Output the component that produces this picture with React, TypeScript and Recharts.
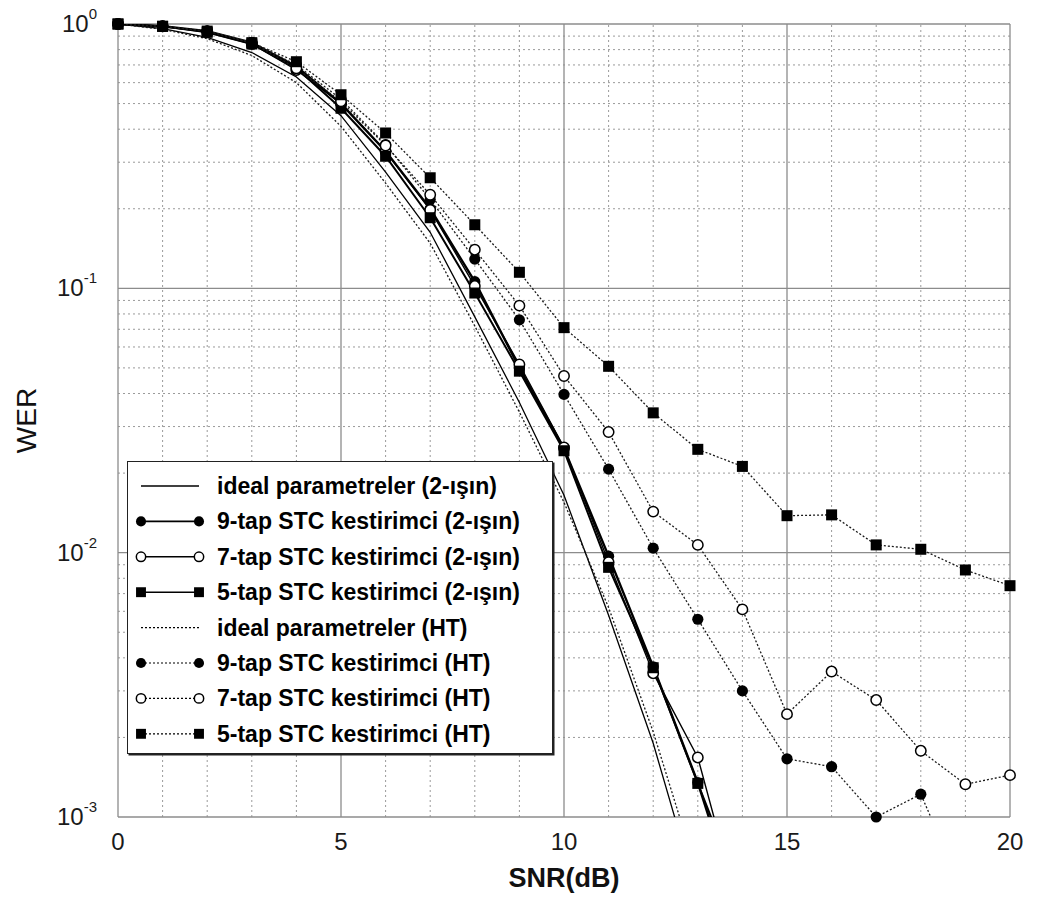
import React from 'react';
import { LineChart, Line, XAxis, YAxis, ReferenceLine, Legend } from 'recharts';

// ---------- data ----------
const snr = [0, 1, 2, 3, 4, 5, 6, 7, 8, 9, 10, 11, 12, 13, 14, 15, 16, 17, 18, 19, 20];

const ideal2 = [1.0, 0.96, 0.89, 0.78, 0.63, 0.45, 0.275, 0.163, 0.078, 0.037, 0.0165, 0.0058, 0.0019, 0.0005];
const tap9_2 = [1.0, 0.98, 0.94, 0.85, 0.69, 0.5, 0.33, 0.2, 0.106, 0.05, 0.0248, 0.0097, 0.0037, 0.00135, 0.0004];
const tap7_2 = [1.0, 0.98, 0.93, 0.84, 0.67, 0.5, 0.33, 0.198, 0.102, 0.0515, 0.025, 0.0092, 0.0035, 0.00168, 0.0004];
const tap5_2 = [1.0, 0.98, 0.93, 0.84, 0.68, 0.48, 0.316, 0.185, 0.096, 0.0486, 0.0243, 0.0088, 0.00367, 0.00134, 0.0005];
const idealHT = [1.0, 0.955, 0.88, 0.76, 0.6, 0.41, 0.25, 0.148, 0.072, 0.034, 0.0155, 0.0062, 0.0021, 0.0006];
const tap9HT = [1.0, 0.98, 0.94, 0.85, 0.7, 0.52, 0.35, 0.217, 0.129, 0.076, 0.0397, 0.0207, 0.0104, 0.0056, 0.003, 0.00166, 0.00155, 0.001, 0.00122, 0.0005];
const tap7HT = [1.0, 0.98, 0.94, 0.85, 0.68, 0.51, 0.347, 0.226, 0.14, 0.086, 0.0466, 0.0286, 0.0143, 0.0107, 0.0061, 0.00245, 0.00355, 0.00277, 0.00178, 0.00133, 0.00144];
const tap5HT = [1.0, 0.98, 0.94, 0.85, 0.72, 0.54, 0.387, 0.262, 0.174, 0.115, 0.071, 0.0507, 0.0338, 0.0246, 0.0212, 0.0138, 0.0139, 0.0107, 0.0103, 0.0086, 0.0075];

const xTicks = [0, 5, 10, 15, 20];
const xMinor = [1, 2, 3, 4, 6, 7, 8, 9, 11, 12, 13, 14, 16, 17, 18, 19];
const yTicks = [0.001, 0.01, 0.1, 1];
const yTickExps = ['-3', '-2', '-1', '0'];
const yMinor = [
  0.002, 0.003, 0.004, 0.005, 0.006, 0.007, 0.008, 0.009,
  0.02, 0.03, 0.04, 0.05, 0.06, 0.07, 0.08, 0.09,
  0.2, 0.3, 0.4, 0.5, 0.6, 0.7, 0.8, 0.9,
];

const names = [
  'ideal parametreler (2-ışın)',
  '9-tap STC kestirimci (2-ışın)',
  '7-tap STC kestirimci (2-ışın)',
  '5-tap STC kestirimci (2-ışın)',
  'ideal parametreler (HT)',
  '9-tap STC kestirimci (HT)',
  '7-tap STC kestirimci (HT)',
  '5-tap STC kestirimci (HT)',
];

// ---------- styles ----------
type Kind = 'filled' | 'open' | 'square' | null;
const SERIES: { key: string; values: number[]; name: string; marker: Kind; dashed: boolean; width: number }[] = [
  { key: 'ideal2', values: ideal2, name: names[0], marker: null, dashed: false, width: 1.3 },
  { key: 'tap9_2', values: tap9_2, name: names[1], marker: 'filled', dashed: false, width: 2.4 },
  { key: 'tap7_2', values: tap7_2, name: names[2], marker: 'open', dashed: false, width: 1.4 },
  { key: 'tap5_2', values: tap5_2, name: names[3], marker: 'square', dashed: false, width: 2 },
  { key: 'idealHT', values: idealHT, name: names[4], marker: null, dashed: true, width: 1.3 },
  { key: 'tap9HT', values: tap9HT, name: names[5], marker: 'filled', dashed: true, width: 1.3 },
  { key: 'tap7HT', values: tap7HT, name: names[6], marker: 'open', dashed: true, width: 1.3 },
  { key: 'tap5HT', values: tap5HT, name: names[7], marker: 'square', dashed: true, width: 1.3 },
];

const FONT = '"Liberation Sans", Arial, Helvetica, sans-serif';
const DOTTED = '2 2';

const data = snr.map((x, i) => {
  const row: Record<string, number> = { x };
  SERIES.forEach((s) => {
    if (i < s.values.length) row[s.key] = s.values[i];
  });
  return row;
});

function MarkerShape({ cx, cy, kind, size = 1 }: { cx: number; cy: number; kind: Kind; size?: number }) {
  if (cx == null || cy == null || Number.isNaN(cx) || Number.isNaN(cy)) return null;
  if (kind === 'filled') return <circle cx={cx} cy={cy} r={5.6 * size} fill="#000" />;
  if (kind === 'open')
    return <circle cx={cx} cy={cy} r={5.2 * size} fill="#fff" stroke="#000" strokeWidth={1.5} />;
  if (kind === 'square') {
    const h = 5.5 * size;
    return <rect x={cx - h} y={cy - h} width={2 * h} height={2 * h} fill="#000" />;
  }
  return null;
}

function YTick(props: any) {
  const { x, y, payload } = props;
  const idx = yTicks.indexOf(payload.value);
  return (
    <text x={x - 21} y={y + 8} textAnchor="end" fontFamily={FONT} fill="#1a1a1a">
      <tspan fontSize={24}>10</tspan>
      <tspan fontSize={15} dy={-13}>
        {yTickExps[idx]}
      </tspan>
    </text>
  );
}

function XTick(props: any) {
  const { x, y, payload } = props;
  return (
    <text x={x} y={y + 33} textAnchor="middle" fontFamily={FONT} fontSize={24} fill="#1a1a1a">
      {payload.value}
    </text>
  );
}

function LegendBox() {
  const rowY = (i: number) => 24 + i * 35.4;
  return (
    <div
      style={{
        width: 424,
        height: 291,
        background: '#fff',
        border: '1.5px solid #222',
        boxShadow: '1.5px 1.5px 0 #222',
      }}
    >
      <svg width={424} height={291}>
        {SERIES.map((s, i) => {
          const y = rowY(i);
          return (
            <g key={s.key}>
              <line
                x1={13}
                x2={71}
                y1={y}
                y2={y}
                stroke="#000"
                strokeWidth={s.dashed ? 1.2 : s.marker ? 1.6 : 1.4}
                strokeDasharray={s.dashed ? DOTTED : undefined}
              />
              {s.marker && <MarkerShape cx={13} cy={y} kind={s.marker} size={0.9} />}
              {s.marker && <MarkerShape cx={71} cy={y} kind={s.marker} size={0.9} />}
              <text
                x={89}
                y={y}
                dominantBaseline="central"
                fontFamily={FONT}
                fontWeight="bold"
                fontSize={23}
                fill="#000"
              >
                {s.name}
              </text>
            </g>
          );
        })}
      </svg>
    </div>
  );
}

export default function App() {
  return (
    <div style={{ width: 1022, height: 895, marginTop: -6, fontFamily: FONT }}>
      <LineChart width={1022} height={895} data={data} margin={{ top: 22, right: 20, left: 20, bottom: 30 }}>
        <XAxis
          dataKey="x"
          type="number"
          domain={[0, 20]}
          ticks={xTicks}
          allowDataOverflow
          axisLine={false}
          tickLine={false}
          tickSize={0}
          tickMargin={0}
          height={50}
          tick={<XTick />}
          label={{
            content: (p: any) => {
              const vb = p.viewBox || { x: 110, y: 815, width: 892 };
              return (
                <text
                  x={vb.x + vb.width / 2}
                  y={vb.y + 70}
                  textAnchor="middle"
                  fontFamily={FONT}
                  fontWeight="bold"
                  fontSize={27}
                  fill="#111"
                >
                  SNR(dB)
                </text>
              );
            },
          }}
        />
        <YAxis
          scale="log"
          type="number"
          domain={[0.001, 1]}
          ticks={yTicks}
          allowDataOverflow
          axisLine={false}
          tickLine={false}
          tickSize={0}
          tickMargin={0}
          width={90}
          tick={<YTick />}
          label={{
            content: (p: any) => {
              const vb = p.viewBox || { x: 20, y: 22, height: 793 };
              const cx = vb.x + 8;
              const cy = vb.y + vb.height / 2;
              return (
                <text
                  x={cx}
                  y={cy}
                  transform={`rotate(-90, ${cx}, ${cy})`}
                  textAnchor="middle"
                  fontFamily={FONT}
                  fontSize={28}
                  fill="#111"
                >
                  WER
                </text>
              );
            },
          }}
        />
        {/* hidden axes for markers (not clipped) */}
        <XAxis xAxisId="m" dataKey="x" type="number" domain={[0, 20]} hide />
        <YAxis yAxisId="m" scale="log" type="number" domain={[0.001, 1]} hide />

        {xMinor.map((v) => (
          <ReferenceLine key={`xm${v}`} x={v} stroke="#9a9a9a" strokeWidth={1} strokeDasharray="2 3" />
        ))}
        {yMinor.map((v) => (
          <ReferenceLine key={`ym${v}`} y={v} stroke="#9a9a9a" strokeWidth={1} strokeDasharray="2 3" />
        ))}
        {xTicks.map((v) => (
          <ReferenceLine key={`xM${v}`} x={v} stroke="#8c8c8c" strokeWidth={1.3} />
        ))}
        {yTicks.map((v) => (
          <ReferenceLine key={`yM${v}`} y={v} stroke="#8c8c8c" strokeWidth={1.3} />
        ))}

        {SERIES.map((s) => (
          <Line
            key={s.key}
            dataKey={s.key}
            name={s.name}
            type="linear"
            stroke={s.dashed ? '#1a1a1a' : '#000'}
            strokeWidth={s.width}
            strokeDasharray={s.dashed ? DOTTED : undefined}
            dot={false}
            activeDot={false}
            isAnimationActive={false}
            legendType="none"
          />
        ))}
        {SERIES.filter((s) => s.marker).map((s) => (
          <Line
            key={`${s.key}-m`}
            xAxisId="m"
            yAxisId="m"
            dataKey={(row: any) => (row[s.key] != null && row[s.key] >= 0.001 ? row[s.key] : null)}
            stroke="none"
            strokeWidth={0}
            dot={(p: any) => <MarkerShape key={`${s.key}-d${p.index}`} cx={p.cx} cy={p.cy} kind={s.marker} />}
            activeDot={false}
            isAnimationActive={false}
            legendType="none"
          />
        ))}
        <Legend
          content={() => <LegendBox />}
          layout="vertical"
          align="center"
          verticalAlign="middle"
          wrapperStyle={{ left: 119, top: 459, width: 427, height: 294 }}
        />
      </LineChart>
    </div>
  );
}
